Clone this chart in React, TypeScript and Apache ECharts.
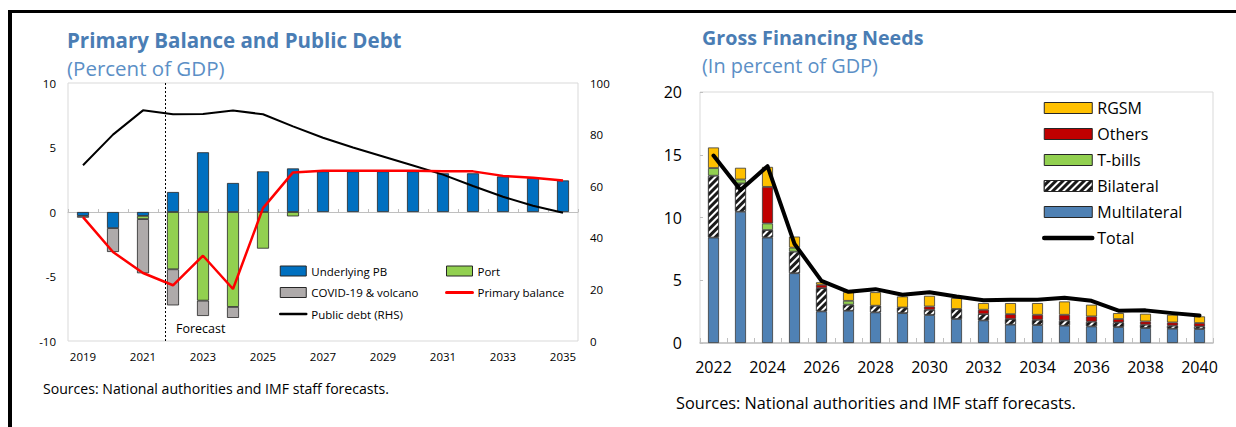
import React, { useEffect, useRef } from 'react';
import * as echarts from 'echarts';

// ---------- Left chart data: Primary Balance and Public Debt ----------
const years1 = ['2019','2020','2021','2022','2023','2024','2025','2026','2027','2028','2029','2030','2031','2032','2033','2034','2035'];
const underlyingPB = [-0.3, -1.25, -0.3, 1.55, 4.63, 2.25, 3.15, 3.38, 3.15, 3.15, 3.15, 3.15, 3.0, 3.0, 2.76, 2.63, 2.45];
const port = [null, null, -0.25, -4.44, -6.87, -7.36, -2.84, -0.34, null, null, null, null, null, null, null, null, null];
const covid = [-0.14, -1.85, -4.2, -2.8, -1.19, -0.85, null, null, null, null, null, null, null, null, null, null, null];
const primaryBalance = [-0.4, -3.1, -4.73, -5.68, -3.39, -5.97, 0.3, 3.07, 3.2, 3.2, 3.2, 3.2, 3.15, 3.15, 2.8, 2.66, 2.45];
const publicDebt = [68.1, 80.0, 89.4, 87.9, 88.0, 89.3, 87.9, 83.2, 78.8, 75.0, 71.5, 68.0, 64.5, 60.1, 55.9, 52.4, 49.7];

// ---------- Right chart data: Gross Financing Needs ----------
const years2 = ['2022','2023','2024','2025','2026','2027','2028','2029','2030','2031','2032','2033','2034','2035','2036','2037','2038','2039','2040'];
const multilateral = [8.40, 10.46, 8.40, 5.56, 2.52, 2.57, 2.44, 2.38, 2.23, 1.91, 1.80, 1.46, 1.43, 1.38, 1.32, 1.27, 1.19, 1.14, 1.11];
const bilateral = [4.93, 2.25, 0.60, 1.72, 1.85, 0.48, 0.53, 0.45, 0.42, 0.80, 0.50, 0.45, 0.42, 0.42, 0.38, 0.37, 0.27, 0.24, 0.21];
const tbills = [0.61, 0.32, 0.53, 0.32, null, 0.31, null, null, null, null, null, null, null, null, null, null, null, null, null];
const others = [null, null, 2.91, null, 0.27, null, null, null, 0.26, null, 0.35, 0.39, 0.40, 0.45, 0.42, 0.27, 0.26, 0.26, 0.27];
const rgsm = [1.64, 0.93, 1.59, 0.88, 0.20, 0.69, 1.08, 0.88, 0.85, 0.88, 0.53, 0.88, 0.93, 1.06, 0.93, 0.47, 0.61, 0.61, 0.53];
const total = [14.94, 12.19, 14.09, 7.9, 4.95, 4.08, 4.29, 3.84, 4.05, 3.7, 3.4, 3.45, 3.44, 3.6, 3.36, 2.57, 2.6, 2.38, 2.2];

const FONT = "'Open Sans', sans-serif";
const TITLE_COLOR = '#4a7db4';
const SUB_COLOR = '#5b8fc6';
const BORDER = '#262626';

function buildOption(): any {
  const leftBar = (name: string, data: any[], color: string) => ({
    name, type: 'bar', xAxisIndex: 0, yAxisIndex: 0, stack: 'left', barWidth: 12, data,
    itemStyle: { color, borderColor: BORDER, borderWidth: 0.8 },
  });
  const rightBar = (name: string, data: any[], color: string, extra: any = {}) => ({
    name, type: 'bar', xAxisIndex: 2, yAxisIndex: 2, stack: 'right', barWidth: 11, data,
    itemStyle: { color, borderColor: '#3a3a3a', borderWidth: 0.8, ...extra },
  });
  const legendText = (size: number) => ({ fontFamily: FONT, fontSize: size, color: '#000' });
  const rectItem = (name: string) => ({ name, icon: 'rect', itemStyle: { borderWidth: 1, borderColor: BORDER } });
  const lineItem = (name: string, width: number) => ({
    name, lineStyle: { width, cap: 'round' }, itemStyle: { opacity: 0, borderWidth: 0 },
  });

  return {
    animation: false,
    backgroundColor: '#fff',
    textStyle: { fontFamily: FONT },
    grid: [
      { left: 68, top: 83, width: 510, height: 258, show: true, borderColor: '#d9d9d9', borderWidth: 1, backgroundColor: 'transparent' },
      { left: 700, top: 92, width: 513, height: 251, show: true, borderColor: '#d9d9d9', borderWidth: 1, backgroundColor: 'transparent' },
    ],
    xAxis: [
      {
        gridIndex: 0, type: 'category', data: years1, position: 'bottom',
        axisLine: { show: false, onZero: false }, axisTick: { show: false },
        axisLabel: { interval: 1, fontSize: 11.5, color: '#000', margin: 9, fontFamily: FONT },
        splitLine: { show: false },
      },
      {
        gridIndex: 0, type: 'category', data: years1, position: 'bottom',
        axisLine: { show: true, onZero: true, onZeroAxisIndex: 0, lineStyle: { color: '#bfbfbf', width: 1 } },
        axisTick: { show: true, inside: true, length: 3, interval: 0, lineStyle: { color: '#bfbfbf' } },
        axisLabel: { show: false }, splitLine: { show: false },
      },
      {
        gridIndex: 1, type: 'category', data: years2, position: 'bottom',
        axisLine: { show: true, onZero: false, lineStyle: { color: '#bfbfbf', width: 1.5 } },
        axisTick: { show: true, inside: true, length: 5, interval: 0, lineStyle: { color: '#bfbfbf' } },
        axisLabel: { interval: 1, fontSize: 16, color: '#000', margin: 16, fontFamily: FONT },
        splitLine: { show: false },
      },
    ],
    yAxis: [
      {
        gridIndex: 0, type: 'value', min: -10, max: 10, interval: 5,
        axisLine: { show: false }, axisTick: { show: false }, splitLine: { show: false },
        axisLabel: { fontSize: 11.5, color: '#000', margin: 12, fontFamily: FONT },
      },
      {
        gridIndex: 0, type: 'value', min: 0, max: 100, interval: 20, position: 'right',
        axisLine: { show: false }, axisTick: { show: false }, splitLine: { show: false },
        axisLabel: { fontSize: 11.5, color: '#000', margin: 12, fontFamily: FONT },
      },
      {
        gridIndex: 1, type: 'value', min: 0, max: 20, interval: 5,
        axisLine: { show: false }, axisTick: { show: true, inside: true, length: 3, lineStyle: { color: '#bfbfbf' } },
        splitLine: { show: false },
        axisLabel: { fontSize: 16, color: '#000', margin: 18, fontFamily: FONT },
      },
    ],
    legend: [
      {
        left: 279, top: 265, padding: 0, orient: 'vertical', itemWidth: 26, itemHeight: 10, itemGap: 9.5,
        textStyle: legendText(11.5), selectedMode: false,
        data: [rectItem('Underlying PB'), rectItem('COVID-19 & volcano'), lineItem('Public debt (RHS)', 2.5)],
      },
      {
        left: 445, top: 265, padding: 0, orient: 'vertical', itemWidth: 26, itemHeight: 10, itemGap: 9.5,
        textStyle: legendText(11.5), selectedMode: false,
        data: [rectItem('Port'), lineItem('Primary balance', 3)],
      },
      {
        left: 1042, top: 100, padding: 0, orient: 'vertical', itemWidth: 48, itemHeight: 11, itemGap: 10,
        textStyle: legendText(16), selectedMode: false,
        data: [rectItem('RGSM'), rectItem('Others'), rectItem('T-bills'), rectItem('Bilateral'), rectItem('Multilateral'),
          lineItem('Total', 4.5)],
      },
    ],
    series: [
      leftBar('Underlying PB', underlyingPB, '#0070c0'),
      leftBar('Port', port, '#92d050'),
      leftBar('COVID-19 & volcano', covid, '#aeaaaa'),
      {
        name: 'Public debt (RHS)', type: 'line', xAxisIndex: 0, yAxisIndex: 1, data: publicDebt,
        symbol: 'none', z: 4, lineStyle: { color: '#000', width: 2 }, itemStyle: { color: '#000' },
      },
      {
        name: 'Primary balance', type: 'line', xAxisIndex: 0, yAxisIndex: 0, data: primaryBalance,
        symbol: 'none', z: 5, lineStyle: { color: '#ff0000', width: 2.5 }, itemStyle: { color: '#ff0000' },
      },
      rightBar('Multilateral', multilateral, '#4f81b4'),
      rightBar('Bilateral', bilateral, '#1a1a1a', {
        decal: { symbol: 'rect', symbolSize: 1, color: '#ffffff', dashArrayX: [1, 0], dashArrayY: [1.8, 2.2], rotation: -Math.PI / 4 },
      }),
      rightBar('T-bills', tbills, '#92d050'),
      rightBar('Others', others, '#c00000'),
      rightBar('RGSM', rgsm, '#ffc000'),
      {
        name: 'Total', type: 'line', xAxisIndex: 2, yAxisIndex: 2, data: total,
        symbol: 'none', z: 5, lineStyle: { color: '#000', width: 4, cap: 'round', join: 'round' }, itemStyle: { color: '#000' },
      },
    ],
    graphic: [
      { type: 'rect', shape: { x: 8, y: 10, width: 1228, height: 3 }, style: { fill: '#000' }, silent: true },
      { type: 'rect', shape: { x: 8, y: 10, width: 4, height: 417 }, style: { fill: '#000' }, silent: true },
      { type: 'text', x: 67, y: 40, style: { text: 'Primary Balance and Public Debt', fontFamily: FONT, fontSize: 20.5, fontWeight: 'bold', fill: TITLE_COLOR, verticalAlign: 'middle' } },
      { type: 'text', x: 67, y: 68, style: { text: '(Percent of GDP)', fontFamily: FONT, fontSize: 20.5, fill: SUB_COLOR, verticalAlign: 'middle' } },
      { type: 'text', x: 702, y: 37, style: { text: 'Gross Financing Needs', fontFamily: FONT, fontSize: 19.7, fontWeight: 'bold', fill: TITLE_COLOR, verticalAlign: 'middle' } },
      { type: 'text', x: 702, y: 65, style: { text: '(In percent of GDP)', fontFamily: FONT, fontSize: 19.9, fill: SUB_COLOR, verticalAlign: 'middle' } },
      { type: 'line', shape: { x1: 165.5, y1: 83, x2: 165.5, y2: 341 }, style: { stroke: '#000', lineWidth: 1, lineDash: [2, 2] }, z: 10 },
      { type: 'text', x: 176, y: 328, style: { text: 'Forecast', fontFamily: FONT, fontSize: 12.5, fill: '#000', verticalAlign: 'middle' } },
      { type: 'text', x: 43, y: 388, style: { text: 'Sources: National authorities and IMF staff forecasts.', fontFamily: FONT, fontSize: 14.1, fill: '#000', verticalAlign: 'middle' } },
      { type: 'text', x: 676, y: 403, style: { text: 'Sources: National authorities and IMF staff forecasts.', fontFamily: FONT, fontSize: 16.3, fill: '#000', verticalAlign: 'middle' } },
    ],
  };
}

export default function App() {
  const ref = useRef<HTMLDivElement>(null);
  useEffect(() => {
    document.body.style.margin = '0';
    const chart = echarts.init(ref.current as HTMLDivElement, null, { renderer: 'svg' });
    chart.setOption(buildOption());
    return () => chart.dispose();
  }, []);
  return <div ref={ref} style={{ width: 1236, height: 427, background: '#fff' }} />;
}
